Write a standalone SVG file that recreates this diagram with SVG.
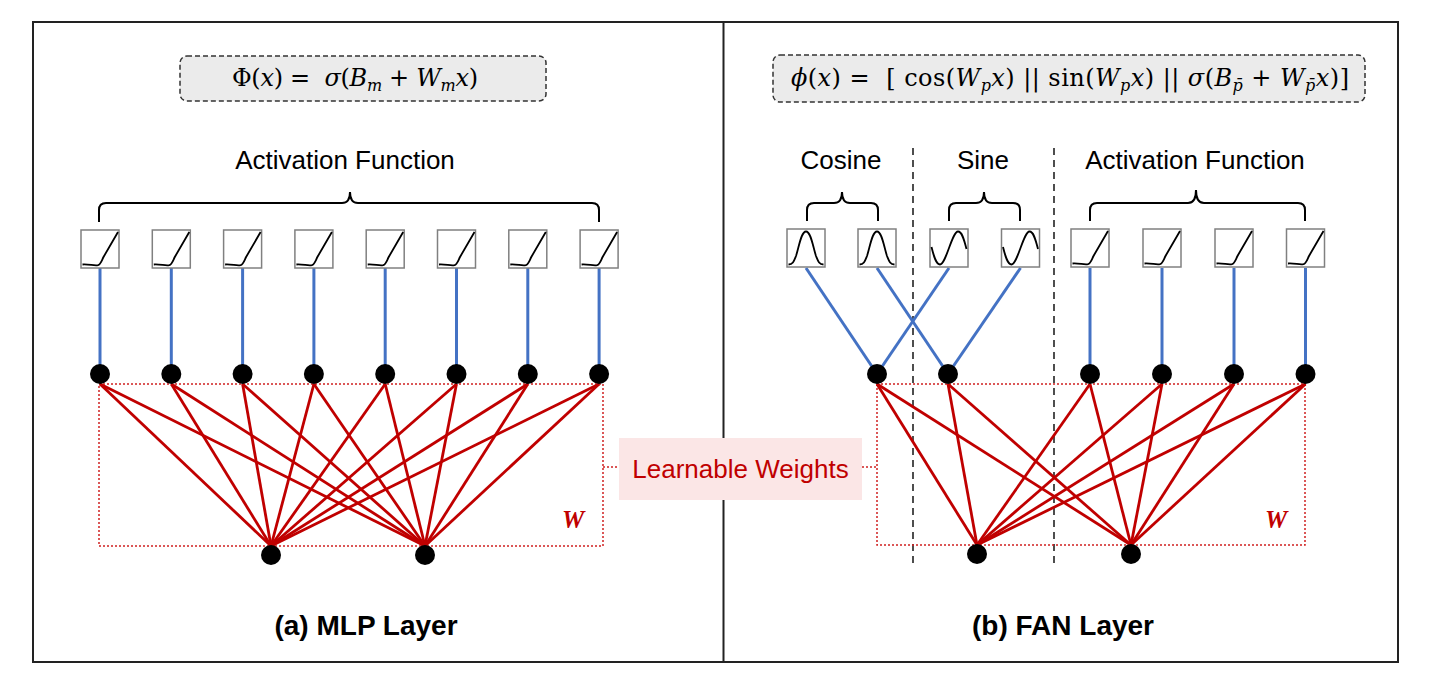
<svg xmlns="http://www.w3.org/2000/svg" xmlns:xlink="http://www.w3.org/1999/xlink" width="1432" height="686" viewBox="0 0 1432 686">
<style>
.lbl{font-family:"Liberation Sans",Arial,sans-serif;font-size:26px;fill:#000}
.title{font-family:"Liberation Sans",Arial,sans-serif;font-size:28px;font-weight:bold;fill:#000}
.math{font-family:"DejaVu Serif","Liberation Serif",serif;font-size:24px;fill:#000}
.i{font-style:italic}
.sub{font-size:16px}
.fbox{fill:#ebebeb;stroke:#333;stroke-width:1.5;stroke-dasharray:5 3}
.brace{fill:none;stroke:#000;stroke-width:2}
.blue{stroke:#4472c4;stroke-width:3;fill:none}
.red{stroke:#c00000;stroke-width:2.8;fill:none}
.dot{fill:none;stroke:#d02020;stroke-width:1.5;stroke-dasharray:2 2}
.dash{stroke:#222;stroke-width:1.6;stroke-dasharray:7 5}
.node{fill:#000}
.wl{font-family:"Liberation Serif","DejaVu Serif",serif;font-size:25px;font-weight:bold;font-style:italic;fill:#c00000}
</style>
<defs>
<g id="relu"><rect x="0" y="0" width="38" height="38" fill="#fff" stroke="#808080" stroke-width="1.5"/><path d="M1.5,34.5 C8,34 13,36 17,35.2 C19.5,34.5 20.5,31 22.5,27 L37,2" fill="none" stroke="#000" stroke-width="1.8"/></g>
<g id="cosf"><rect x="0" y="0" width="38" height="38" fill="#fff" stroke="#808080" stroke-width="1.5"/><path d="M1.5,35.5 C6,35.5 7,32 9,27 C12,18 14,2.5 19,2.5 C24,2.5 26,18 29,27 C31,32 32,35.5 36.5,35.5" fill="none" stroke="#000" stroke-width="1.8"/></g>
<g id="sinf"><rect x="0" y="0" width="38" height="38" fill="#fff" stroke="#808080" stroke-width="1.5"/><path d="M1.5,18 C4,28 6,35.5 10,35.5 C16,35.5 22,2.5 28,2.5 C32,2.5 34,10 36.5,20" fill="none" stroke="#000" stroke-width="1.8"/></g>
</defs>
<rect x="0" y="0" width="1432" height="686" fill="#fff"/>
<g id="frame">
<rect x="33" y="22" width="1365" height="640" fill="none" stroke="#222" stroke-width="2"/>
<line x1="723.5" y1="22" x2="723.5" y2="662" stroke="#222" stroke-width="2"/>
</g>
<g id="dividers">
<line class="dash" x1="913" y1="148" x2="913" y2="564"/>
<line class="dash" x1="1054" y1="148" x2="1054" y2="564"/>
</g>
<g id="formula-a">
<rect class="fbox" x="180" y="56" width="366" height="45" rx="7"/>
<text class="math" x="232" y="86" textLength="246" lengthAdjust="spacing" xml:space="preserve">Φ(<tspan class="i">x</tspan>) =  <tspan class="i">σ</tspan>(<tspan class="i">B</tspan><tspan class="i sub" dy="5">m</tspan><tspan dy="-5"> + </tspan><tspan class="i">W</tspan><tspan class="i sub" dy="5">m</tspan><tspan class="i" dy="-5">x</tspan>)</text>
</g>
<g id="formula-b">
<rect class="fbox" x="773" y="55" width="592" height="47" rx="7"/>
<text class="math" x="791" y="86" textLength="558" lengthAdjust="spacing" xml:space="preserve"><tspan class="i">ϕ</tspan>(<tspan class="i">x</tspan>) =  [ cos(<tspan class="i">W</tspan><tspan class="i sub" dy="5">p</tspan><tspan class="i" dy="-5">x</tspan>) || sin(<tspan class="i">W</tspan><tspan class="i sub" dy="5">p</tspan><tspan class="i" dy="-5">x</tspan>) || <tspan class="i">σ</tspan>(<tspan class="i">B</tspan><tspan class="i sub" dy="5">p̄</tspan><tspan dy="-5"> + </tspan><tspan class="i">W</tspan><tspan class="i sub" dy="5">p̄</tspan><tspan class="i" dy="-5">x</tspan>)]</text>
</g>
<g id="labels">
<text class="lbl" x="345" y="169" text-anchor="middle">Activation Function</text>
<text class="lbl" x="841" y="169" text-anchor="middle">Cosine</text>
<text class="lbl" x="983" y="169" text-anchor="middle">Sine</text>
<text class="lbl" x="1195" y="169" text-anchor="middle">Activation Function</text>
<text class="title" x="366" y="635" text-anchor="middle">(a) MLP Layer</text>
<text class="title" x="1063" y="635" text-anchor="middle">(b) FAN Layer</text>
</g>
<g id="braces">
<path class="brace" d="M99,222 L99,210 Q99,203 106,203 L342,203 Q350,203 350,192 Q350,203 358,203 L592,203 Q599,203 599,210 L599,222"/>
<path class="brace" d="M807,221 L807,210 Q807,203 814,203 L834,203 Q842,203 842,192 Q842,203 850,203 L871,203 Q878,203 878,210 L878,221"/>
<path class="brace" d="M949,221 L949,210 Q949,203 956,203 L976,203 Q984,203 984,192 Q984,203 992,203 L1013,203 Q1020,203 1020,210 L1020,221"/>
<path class="brace" d="M1090,221 L1090,210 Q1090,203 1097,203 L1188,203 Q1196,203 1196,190 Q1196,203 1204,203 L1298,203 Q1305,203 1305,210 L1305,221"/>
</g>
<g id="weights-boxes">
<rect class="dot" x="99" y="384" width="504" height="162"/>
<rect class="dot" x="877" y="384" width="428" height="161"/>
<line class="dot" x1="603" y1="467" x2="619" y2="467"/>
<line class="dot" x1="862" y1="467" x2="877" y2="467"/>
<text class="wl" x="573" y="528" text-anchor="middle">W</text>
<text class="wl" x="1276" y="528" text-anchor="middle">W</text>
</g>
<g id="connectors">
<g class="blue">
<line x1="100" y1="268" x2="100" y2="374"/>
<line x1="171.3" y1="268" x2="171.3" y2="374"/>
<line x1="242.6" y1="268" x2="242.6" y2="374"/>
<line x1="313.9" y1="268" x2="313.9" y2="374"/>
<line x1="385.2" y1="268" x2="385.2" y2="374"/>
<line x1="456.5" y1="268" x2="456.5" y2="374"/>
<line x1="527.8" y1="268" x2="527.8" y2="374"/>
<line x1="599.1" y1="268" x2="599.1" y2="374"/>
<line x1="806" y1="268" x2="877" y2="374"/>
<line x1="877" y1="268" x2="948" y2="374"/>
<line x1="949" y1="268" x2="877" y2="374"/>
<line x1="1020.5" y1="268" x2="948" y2="374"/>
<line x1="1090" y1="268" x2="1090" y2="374"/>
<line x1="1162" y1="268" x2="1162" y2="374"/>
<line x1="1234" y1="268" x2="1234" y2="374"/>
<line x1="1305.5" y1="268" x2="1305.5" y2="374"/>
</g>
<g class="red">
<line x1="100" y1="384" x2="271" y2="546"/><line x1="100" y1="384" x2="425" y2="546"/>
<line x1="171.3" y1="384" x2="271" y2="546"/><line x1="171.3" y1="384" x2="425" y2="546"/>
<line x1="242.6" y1="384" x2="271" y2="546"/><line x1="242.6" y1="384" x2="425" y2="546"/>
<line x1="313.9" y1="384" x2="271" y2="546"/><line x1="313.9" y1="384" x2="425" y2="546"/>
<line x1="385.2" y1="384" x2="271" y2="546"/><line x1="385.2" y1="384" x2="425" y2="546"/>
<line x1="456.5" y1="384" x2="271" y2="546"/><line x1="456.5" y1="384" x2="425" y2="546"/>
<line x1="527.8" y1="384" x2="271" y2="546"/><line x1="527.8" y1="384" x2="425" y2="546"/>
<line x1="599.1" y1="384" x2="271" y2="546"/><line x1="599.1" y1="384" x2="425" y2="546"/>
<line x1="877" y1="384" x2="977" y2="545"/><line x1="877" y1="384" x2="1131" y2="545"/>
<line x1="948" y1="384" x2="977" y2="545"/><line x1="948" y1="384" x2="1131" y2="545"/>
<line x1="1090" y1="384" x2="977" y2="545"/><line x1="1090" y1="384" x2="1131" y2="545"/>
<line x1="1162" y1="384" x2="977" y2="545"/><line x1="1162" y1="384" x2="1131" y2="545"/>
<line x1="1234" y1="384" x2="977" y2="545"/><line x1="1234" y1="384" x2="1131" y2="545"/>
<line x1="1305.5" y1="384" x2="977" y2="545"/><line x1="1305.5" y1="384" x2="1131" y2="545"/>
</g>
</g>
<g id="learnable-weights">
<rect x="619" y="438" width="243" height="62" fill="#fbe6e6"/>
<text x="740.5" y="478" text-anchor="middle" style="font-family:'Liberation Sans',Arial,sans-serif;font-size:26px;fill:#c00000">Learnable Weights</text>
</g>
<g id="mlp-act-1"><use xlink:href="#relu" x="81" y="230"/></g>
<g id="mlp-act-2"><use xlink:href="#relu" x="152.3" y="230"/></g>
<g id="mlp-act-3"><use xlink:href="#relu" x="223.6" y="230"/></g>
<g id="mlp-act-4"><use xlink:href="#relu" x="294.9" y="230"/></g>
<g id="mlp-act-5"><use xlink:href="#relu" x="366.2" y="230"/></g>
<g id="mlp-act-6"><use xlink:href="#relu" x="437.5" y="230"/></g>
<g id="mlp-act-7"><use xlink:href="#relu" x="508.8" y="230"/></g>
<g id="mlp-act-8"><use xlink:href="#relu" x="580.1" y="230"/></g>
<g id="fan-cos-1"><use xlink:href="#cosf" x="787" y="229"/></g>
<g id="fan-cos-2"><use xlink:href="#cosf" x="858" y="229"/></g>
<g id="fan-sin-1"><use xlink:href="#sinf" x="930" y="229"/></g>
<g id="fan-sin-2"><use xlink:href="#sinf" x="1001.5" y="229"/></g>
<g id="fan-act-1"><use xlink:href="#relu" x="1071" y="229"/></g>
<g id="fan-act-2"><use xlink:href="#relu" x="1143" y="229"/></g>
<g id="fan-act-3"><use xlink:href="#relu" x="1215" y="229"/></g>
<g id="fan-act-4"><use xlink:href="#relu" x="1286.5" y="229"/></g>
<g id="mlp-hidden-nodes">
<circle class="node" cx="100" cy="374" r="10"/><circle class="node" cx="171.3" cy="374" r="10"/>
<circle class="node" cx="242.6" cy="374" r="10"/><circle class="node" cx="313.9" cy="374" r="10"/>
<circle class="node" cx="385.2" cy="374" r="10"/><circle class="node" cx="456.5" cy="374" r="10"/>
<circle class="node" cx="527.8" cy="374" r="10"/><circle class="node" cx="599.1" cy="374" r="10"/>
</g>
<g id="mlp-input-nodes">
<circle class="node" cx="271" cy="555" r="10"/><circle class="node" cx="425" cy="555" r="10"/>
</g>
<g id="fan-hidden-nodes">
<circle class="node" cx="877" cy="374" r="10"/><circle class="node" cx="948" cy="374" r="10"/>
<circle class="node" cx="1090" cy="374" r="10"/><circle class="node" cx="1162" cy="374" r="10"/>
<circle class="node" cx="1234" cy="374" r="10"/><circle class="node" cx="1305.5" cy="374" r="10"/>
</g>
<g id="fan-input-nodes">
<circle class="node" cx="977" cy="554" r="10"/><circle class="node" cx="1131" cy="554" r="10"/>
</g>
</svg>
